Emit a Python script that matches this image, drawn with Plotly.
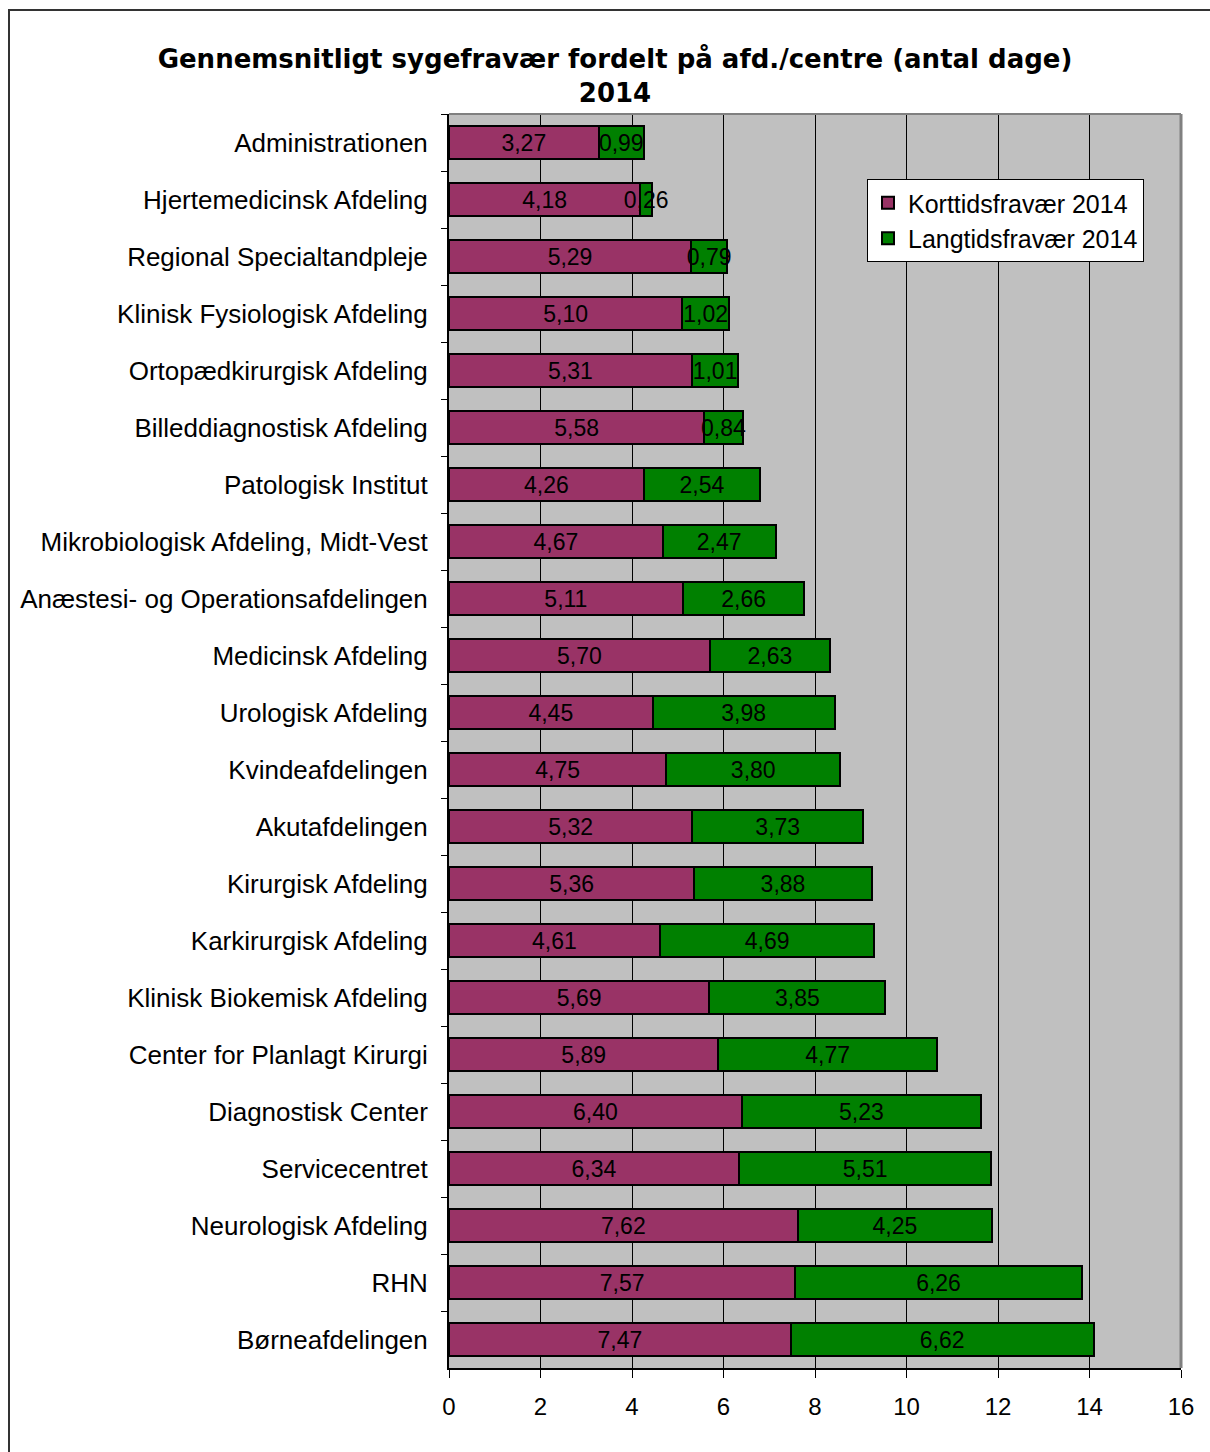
import plotly.graph_objects as go

categories = [
    "Administrationen", "Hjertemedicinsk Afdeling", "Regional Specialtandpleje",
    "Klinisk Fysiologisk Afdeling", "Ortopædkirurgisk Afdeling", "Billeddiagnostisk Afdeling",
    "Patologisk Institut", "Mikrobiologisk Afdeling, Midt-Vest", "Anæstesi- og Operationsafdelingen",
    "Medicinsk Afdeling", "Urologisk Afdeling", "Kvindeafdelingen", "Akutafdelingen",
    "Kirurgisk Afdeling", "Karkirurgisk Afdeling", "Klinisk Biokemisk Afdeling",
    "Center for Planlagt Kirurgi", "Diagnostisk Center", "Servicecentret",
    "Neurologisk Afdeling", "RHN", "Børneafdelingen",
]
kort = [3.27, 4.18, 5.29, 5.10, 5.31, 5.58, 4.26, 4.67, 5.11, 5.70, 4.45, 4.75, 5.32,
        5.36, 4.61, 5.69, 5.89, 6.40, 6.34, 7.62, 7.57, 7.47]
lang = [0.99, 0.26, 0.79, 1.02, 1.01, 0.84, 2.54, 2.47, 2.66, 2.63, 3.98, 3.80, 3.73,
        3.88, 4.69, 3.85, 4.77, 5.23, 5.51, 4.25, 6.26, 6.62]
series_names = ["Korttidsfravær 2014", "Langtidsfravær 2014"]
x_ticks = [0, 2, 4, 6, 8, 10, 12, 14, 16]

def fmt(v):
    return f"{v:.2f}".replace(".", ",")

fig = go.Figure()
for name, vals, col in [(series_names[0], kort, "#993366"), (series_names[1], lang, "#008000")]:
    fig.add_trace(go.Bar(
        y=categories, x=vals, name=name, orientation="h",
        marker=dict(color=col, line=dict(color="black", width=2)),
        text=[fmt(v) for v in vals], textposition="inside", insidetextanchor="middle",
        textangle=0,
        textfont=dict(family="Liberation Sans, Arial", size=23, color="black"),
        constraintext="none", cliponaxis=False,
    ))

W, H = 1210, 1452
L, R, T, B = 449, 1181, 114, 1368
pw, ph = R - L, B - T

def px(x):
    return (x - L) / pw

def py(y):
    return (B - y) / ph

fig.update_layout(
    width=W, height=H, barmode="stack", bargap=0.43,
    margin=dict(l=L, r=W - R, t=T, b=H - B, pad=0),
    paper_bgcolor="white", plot_bgcolor="#C0C0C0",
    font=dict(family="Liberation Sans, Arial", size=26, color="black"),
    uniformtext=dict(minsize=23, mode="show"),
    title=dict(
        text="Gennemsnitligt sygefravær fordelt på afd./centre (antal dage)<br>2014",
        x=615 / W, xanchor="center", xref="container",
        y=1 - 68 / H, yanchor="top", yref="container",
        font=dict(family="DejaVu Sans, Verdana", size=26, color="black", weight="bold"),
    ),
    legend=dict(
        x=px(867), y=py(179), xanchor="left", yanchor="top",
        bgcolor="white", bordercolor="black", borderwidth=1,
        font=dict(size=25), traceorder="normal", itemwidth=30,
    ),
    xaxis=dict(
        range=[0, 16], tickvals=x_ticks, ticks="outside", ticklen=8, tickcolor="black",
        showline=True, linecolor="black", linewidth=2, showgrid=True, gridcolor="black",
        gridwidth=1, zeroline=False, tickfont=dict(size=24), ticklabelstandoff=8,
    ),
    yaxis=dict(
        categoryorder="array", categoryarray=categories, autorange="reversed",
        ticks="outside", tickson="boundaries", ticklen=6, tickcolor="black",
        showline=True, linecolor="black", linewidth=2, showgrid=False,
        tickfont=dict(size=26), ticklabelstandoff=14,
    ),
    shapes=[
        dict(type="line", xref="paper", yref="paper", x0=0, x1=1, y0=1, y1=1,
             line=dict(color="#808080", width=2)),
        dict(type="line", xref="paper", yref="paper", x0=1, x1=1, y0=0, y1=1,
             line=dict(color="#808080", width=3)),
        dict(type="rect", xref="paper", yref="paper", x0=px(9), x1=px(1230),
             y0=py(1470), y1=py(10), line=dict(color="#333333", width=2)),
    ],
)

fig.write_html("out.html", config={"displayModeBar": False},
               post_script="document.body.style.margin='0';")
